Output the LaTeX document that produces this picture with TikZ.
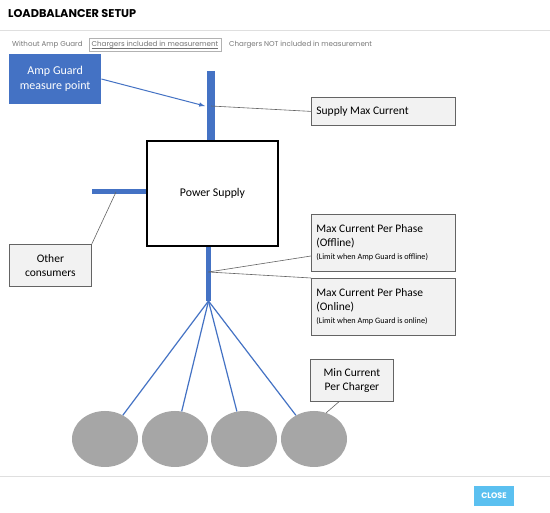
\documentclass[tikz,border=0pt]{standalone}
\usepackage{fontspec}
\setmainfont{Carlito}
\newfontfamily\uifont{Poppins}
\usepackage{xcolor}
\usepackage{tikz}
\usetikzlibrary{shapes.geometric}
\definecolor{agblue}{RGB}{68,114,196}
\definecolor{boxgray}{RGB}{242,242,242}
\definecolor{linegray}{RGB}{100,100,100}
\definecolor{chargergray}{RGB}{166,166,166}
\definecolor{uigray}{RGB}{120,120,120}
\definecolor{closeblue}{RGB}{91,192,240}

\tikzset{
    labelbox/.style={draw=linegray, fill=boxgray, line width=0.8pt, inner sep=0pt, anchor=north west, align=flush left, font=\fontsize{11.5}{14}\selectfont},
    bar/.style={agblue, line width=#1},
    callout/.style={linegray, line width=0.6pt},
    charger/.style={ellipse, fill=chargergray, minimum width=66pt, minimum height=56pt, inner sep=0pt},
    feed/.style={agblue, line width=1.2pt},
    tab/.style={font=\uifont\fontsize{7.1}{8}\selectfont, text=uigray, anchor=west, inner sep=0pt}
}

\begin{document}
\begin{tikzpicture}[x=1pt, y=-1pt]
    \useasboundingbox (0,0) rectangle (550,513);
    \fill[white] (0,0) rectangle (550,513);

    % Header
    \node[anchor=west, inner sep=0pt, font=\uifont\bfseries\fontsize{11.3}{12}\selectfont] (title) at (8,14) {LOADBALANCER SETUP};
    \draw[gray!25] (0,30) -- (550,30);
    \node[tab] (tabwithout) at (12,45) {Without Amp Guard};
    \node[tab, draw=gray!60, inner xsep=2.5pt, minimum height=13pt, text=gray!90!black] (tabincl) at (89,45) {Chargers included in measurement};
    \draw[gray!90!black, line width=0.4pt] ([xshift=2.5pt, yshift=-1.3pt]tabincl.base west) -- ([xshift=-2.5pt, yshift=-1.3pt]tabincl.base east);
    \node[tab] (tabnot) at (229,45) {Chargers NOT included in measurement};

    % Amp Guard measure point
    \node[fill=agblue, text=white, anchor=north west, minimum width=92pt, minimum height=50pt, inner sep=0pt, align=center, font=\fontsize{12}{15}\selectfont] (ampguard) at (9,54) {Amp Guard\\measure point};

    % Power supply
    \node[draw=black, line width=2pt, anchor=north west, minimum width=131pt, minimum height=105pt] (supply) at (146,140) {};
    \node[font=\fontsize{11.8}{13}\selectfont] (supplytext) at (supply.center) {Power Supply};

    % Bars
    \coordinate (topbar) at (211,71);
    \coordinate (toptap) at (211,106);
    \draw[bar=8pt] (topbar) -- (supply.north -| topbar);
    \coordinate (leftbar) at (92,192);
    \coordinate (lefttap) at (116,192);
    \draw[bar=5pt] (leftbar) -- (leftbar -| supply.west);
    \coordinate (botbar) at (208.5,301);
    \coordinate (bottap) at (208.5,272);
    \draw[bar=5pt] (supply.south -| botbar) -- (botbar);

    % Label boxes
    \node[labelbox, text width=134pt, minimum height=28pt, inner xsep=5pt] (supplymax) at (311,97) {Supply Max Current};
    \node[labelbox, text width=134pt, minimum height=57pt, inner xsep=5pt] (offline) at (311,214)
        {Max Current Per Phase\\(Offline)\\[-1pt]{\fontsize{8.2}{10}\selectfont(Limit when Amp Guard is offline)}};
    \node[labelbox, text width=134pt, minimum height=57pt, inner xsep=5pt] (online) at (311,278)
        {Max Current Per Phase\\(Online)\\[-1pt]{\fontsize{8.2}{10}\selectfont(Limit when Amp Guard is online)}};
    \node[labelbox, align=center, minimum width=83pt, minimum height=42pt] (mincurrent) at (310,359) {Min Current\\Per Charger};
    \node[labelbox, align=center, minimum width=82pt, minimum height=42pt] (others) at (9,244) {Other\\consumers};

    % Chargers
    \foreach \cx [count=\i] in {105,175,244,314}
        \node[charger] (charger\i) at (\cx,439) {};
    \foreach \i in {1,...,4}
        \draw[feed] (botbar) -- (charger\i);

    % Callouts
    \draw[agblue, line width=1pt, -latex] (ampguard.east |- 0,79) -- (toptap -| 205,0);
    \draw[callout] (toptap) -- (supplymax.west);
    \draw[callout] (lefttap) -- (others.north east);
    \draw[callout] (bottap) -- (offline.west |- 0,256);
    \draw[callout] (bottap) -- (online.west |- 0,278);
    \draw[callout] (mincurrent.south) ++(-13,0) coordinate (mintip) -- (charger4.65);

    % Footer
    \draw[gray!25] (0,476) -- (550,476);
    \node[fill=closeblue, text=white, minimum width=40pt, minimum height=20pt, inner sep=0pt, font=\uifont\bfseries\fontsize{8}{9}\selectfont] (close) at (494,496) {CLOSE};
\end{tikzpicture}
\end{document}
